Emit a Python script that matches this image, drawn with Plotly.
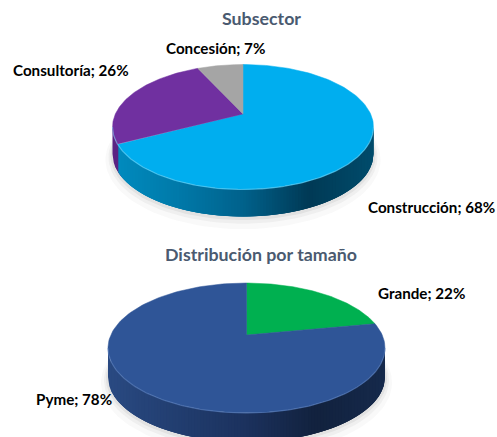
import numpy as np
import plotly.graph_objects as go

# Data
sub_title = "Subsector"
sub_labels = ["Construcción", "Consultoría", "Concesión"]
sub_values = [68, 26, 7]
sub_colors = ["#00AEEF", "#7030A0", "#A5A5A5"]
size_title = "Distribución por tamaño"
size_labels = ["Grande", "Pyme"]
size_values = [22, 78]
size_colors = ["#00B050", "#2F5597"]

W, H = 497, 437
FONT = "Lato, 'Open Sans', sans-serif"


def rgb(c):
    return f"rgb({int(c[0])},{int(c[1])},{int(c[2])})"


def to_face(t, cx, cy, rx, ry, e):
    """Perspective map of the clockwise-from-top pie angle onto the top ellipse."""
    d = 1 + e * np.cos(t)
    c = (np.cos(t) + e) / d
    s = np.sin(t) * np.sqrt(1 - e * e) / d
    return cx + rx * s, cy - ry * c


def side_colour(frac, stops):
    xs = np.linspace(0, 1, len(stops))
    return [np.interp(frac, xs, [p[i] for p in stops]) for i in range(3)]


def draw_pie(fig, values, colors, side_stops, cx, cy, rx, ry, e, depth, rim):
    fr = np.array(values, float) / sum(values)
    edges = np.concatenate([[0], np.cumsum(fr)]) * 2 * np.pi

    # soft ground shadow
    a = np.linspace(0, 2 * np.pi, 120)
    for grow, op in [(7, 0.03), (4, 0.05), (2, 0.07)]:
        fig.add_trace(go.Scatter(
            x=cx + (rx + grow) * np.sin(a), y=cy + depth + grow * 0.8 - (ry + grow) * np.cos(a),
            mode="lines", line=dict(width=0), fill="toself",
            fillcolor=f"rgba(60,60,60,{op})", hoverinfo="skip"))

    # side wall: overlapping vertical strips on the front half
    n = 90
    grid = np.linspace(0, 2 * np.pi, 721)
    gx, gy = to_face(grid, cx, cy, rx, ry, e)
    idx = np.where(gy >= cy)[0]
    xs = np.linspace(cx - rx, cx + rx, n + 1)
    for i in range(n):
        x0 = xs[i]
        x1 = xs[min(i + 3, n)]
        xm = (xs[i] + xs[i + 1]) / 2
        f = (xm - (cx - rx)) / (2 * rx)
        ta = grid[idx][np.argmin(np.abs(gx[idx] - xm))]
        k = min(np.searchsorted(edges, ta, side="right") - 1, len(values) - 1)
        col_s = rgb(side_colour(f, side_stops[k]))
        xv = np.linspace(x0, x1, 8)
        yv = cy + ry * np.sqrt(np.clip(1 - ((xv - cx) / rx) ** 2, 0, 1))
        fig.add_trace(go.Scatter(
            x=np.concatenate([xv, xv[::-1]]),
            y=np.concatenate([yv, yv[::-1] + depth]),
            mode="lines", line=dict(width=0), fill="toself",
            fillcolor=col_s, hoverinfo="skip"))

    # top face slices
    for k, col in enumerate(colors):
        t = np.linspace(edges[k], edges[k + 1], 160)
        x, y = to_face(t, cx, cy, rx, ry, e)
        ax, ay = cx, cy - ry * e
        fig.add_trace(go.Scatter(
            x=np.concatenate([[ax], x, [ax]]), y=np.concatenate([[ay], y, [ay]]),
            mode="lines", line=dict(width=0.5, color=col), fill="toself",
            fillcolor=col, hoverinfo="skip"))

    # light bevel along the front rim
    t = np.linspace(np.pi * 0.5, np.pi * 1.5, 200)
    fig.add_trace(go.Scatter(
        x=cx + rx * np.sin(t), y=cy - ry * np.cos(t),
        mode="lines", line=dict(width=1.2, color=rim), hoverinfo="skip"))


fig = go.Figure()

draw_pie(fig, sub_values, sub_colors,
         [[(0, 140, 192), (0, 122, 170), (0, 98, 140), (0, 58, 86), (0, 76, 108)],
          [(92, 36, 132), (80, 30, 120), (70, 26, 100), (50, 20, 70), (50, 20, 70)],
          [(130, 130, 130), (120, 120, 120), (100, 100, 100), (80, 80, 80), (80, 80, 80)]],
         243, 127, 130.5, 62.5, 0.21, 27, "rgba(130,220,250,0.5)")

draw_pie(fig, size_values, size_colors,
         [[(0, 120, 60), (0, 110, 55), (0, 90, 45), (0, 70, 35), (0, 70, 35)],
          [(42, 74, 130), (34, 62, 112), (28, 50, 94), (18, 34, 62), (22, 42, 76)]],
         246.5, 348, 138.5, 65, 0.2, 29, "rgba(100,135,195,0.5)")

labels = [
    (f"{sub_labels[0]}; {sub_values[0]}%", 431.5, 207, 15.2, "#000000"),
    (f"{sub_labels[1]}; {sub_values[1]}%", 71, 70, 15.2, "#000000"),
    (f"{sub_labels[2]}; {sub_values[2]}%", 215, 48, 15.2, "#000000"),
    (f"{size_labels[0]}; {size_values[0]}%", 421.5, 293, 15.2, "#000000"),
    (f"{size_labels[1]}; {size_values[1]}%", 74, 399, 15.2, "#000000"),
    (sub_title, 261, 18, 17.8, "#4A5A70"),
    (size_title, 261, 254, 17.8, "#4A5A70"),
]
for text, x, y, size, col in labels:
    fig.add_annotation(x=x, y=y, xref="x", yref="y", text=f"<b>{text}</b>", showarrow=False,
                       font=dict(family=FONT, size=size, color=col))

fig.update_layout(
    width=W, height=H, margin=dict(l=0, r=0, t=0, b=0),
    paper_bgcolor="white", plot_bgcolor="white", showlegend=False,
    xaxis=dict(range=[0, W], visible=False, fixedrange=True),
    yaxis=dict(range=[H, 0], visible=False, fixedrange=True),
)
fig.write_html("out.html", config={"displayModeBar": False},
               post_script="document.body.style.margin='0';document.body.style.overflow='hidden';")
